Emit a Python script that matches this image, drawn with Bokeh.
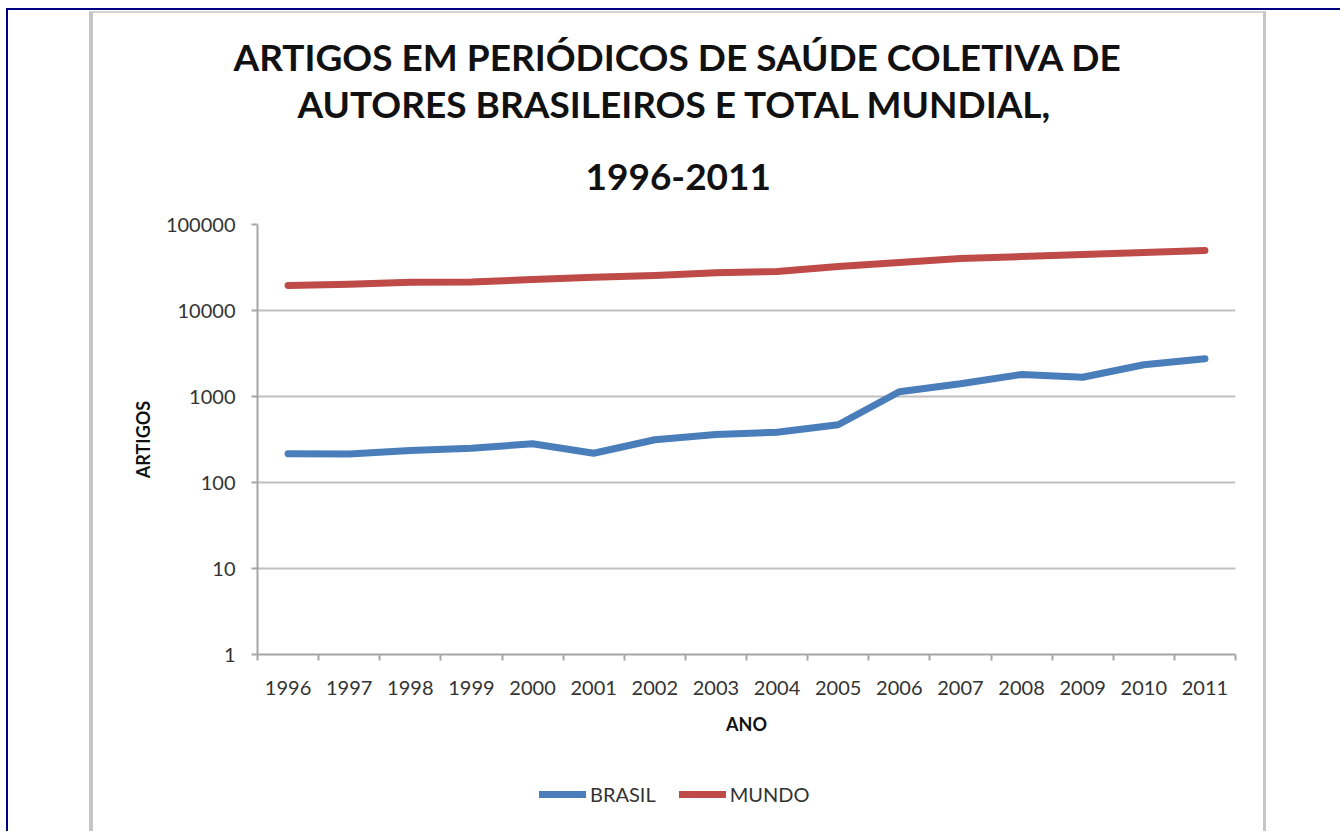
from bokeh.plotting import figure
from bokeh.models import (FixedTicker, PrintfTickFormatter, Legend, LegendItem,
                          Column, Title)
from bokeh.embed import file_html
from bokeh.resources import INLINE

# ---------------- data ----------------
years = [1996, 1997, 1998, 1999, 2000, 2001, 2002, 2003,
         2004, 2005, 2006, 2007, 2008, 2009, 2010, 2011]
brasil = [216, 214, 236, 250, 282, 219, 314, 361,
          384, 469, 1137, 1405, 1803, 1676, 2337, 2743]
mundo = [19540, 20200, 21300, 21500, 22900, 24400, 25500, 27400,
         28400, 32500, 36200, 40200, 42400, 44800, 47200, 49900]
y_ticks = [1, 10, 100, 1000, 10000, 100000]
title_lines = ["ARTIGOS EM PERIÓDICOS DE SAÚDE COLETIVA DE",
               "AUTORES BRASILEIROS E TOTAL  MUNDIAL,",
               "1996-2011"]
y_label = "ARTIGOS"
x_label = "ANO"
series_names = ["BRASIL", "MUNDO"]
colors = ["#4A7EBB", "#BE4B48"]

# ---------------- geometry (page pixels) ----------------
CX, CY = 93, 13            # canvas origin on the page
WC = 1177                  # host width (incl. 4px + 3px borders)
HC1 = 749                  # main figure height
HC2 = 71                   # legend strip height
FX0, FX1, FY0, FY1 = 257, 1235, 224, 654  # frame edges on the page
XMIN, XMAX = years[0] - 0.5, years[-1] + 0.5
FONT = "Lato"
GRAY_BORDER = "4px solid #c6c6c6"

p = figure(width=WC, height=HC1, output_backend="svg", toolbar_location=None,
           title=None,
           y_axis_type="log", x_range=(XMIN, XMAX), y_range=(1, 100000),
           min_border_left=FX0 - CX, min_border_right=CX + WC - FX1,
           min_border_top=FY0 - CY, min_border_bottom=CY + HC1 - FY1,
           background_fill_color="white", border_fill_color="white",
           margin=(1, 74, 0, 81),
           styles={"border-left": GRAY_BORDER,
                   "border-top": "2px solid #d2d2d2",
                   "border-right": "3px solid #c6c6c6"})
p.outline_line_color = None

xa = p.below[0]
ya = p.left[0]

# x axis: labels at year centres, ticks at boundaries (minor ticks)
xa.ticker = FixedTicker(ticks=years,
                        minor_ticks=[y - 0.5 for y in years] + [years[-1] + 0.5])
xa.major_tick_out = 0
xa.major_tick_in = 0
xa.minor_tick_out = 6
xa.minor_tick_in = 0
xa.minor_tick_line_color = "#a6a6a6"
xa.minor_tick_line_width = 2
xa.major_label_standoff = 20
xa.axis_label = x_label
xa.axis_label_standoff = 15

ya.ticker = FixedTicker(ticks=y_ticks)
ya.formatter = PrintfTickFormatter(format="%d")
ya.major_tick_out = 6
ya.major_tick_in = 0
ya.minor_tick_line_color = None
ya.major_tick_line_color = "#a6a6a6"
ya.major_tick_line_width = 2
ya.major_label_standoff = 16
ya.axis_label = y_label
ya.axis_label_standoff = 9

for ax in (xa, ya):
    ax.axis_line_color = "#a6a6a6"
    ax.axis_line_width = 2
    ax.major_label_text_font = FONT
    ax.major_label_text_font_size = "20px"
    ax.major_label_text_color = "#333333"
    ax.axis_label_text_font = FONT
    ax.axis_label_text_font_style = "bold"
    ax.axis_label_text_font_size = "18px"
    ax.axis_label_text_color = "#111111"

p.xgrid.visible = False
p.ygrid.ticker = FixedTicker(ticks=y_ticks)
p.ygrid.grid_line_color = "#c0c0c0"
p.ygrid.grid_line_width = 2

# title lines: added nearest-to-frame first
title_offsets = [-24, 40, 328]
title_standoffs = [0, 1, 70]
for txt, off, so in reversed(list(zip(title_lines, title_offsets, title_standoffs))):
    p.add_layout(Title(text=txt, align="left", offset=off, standoff=so,
                       text_font=FONT, text_font_style="bold",
                       text_font_size="37px", text_color="#111111"), "above")

line_kw = dict(line_width=7, line_cap="round", line_join="round")
p.line(years, brasil, line_color=colors[0], **line_kw)
p.line(years, mundo, line_color=colors[1], **line_kw)

# ---------------- legend strip ----------------
p2 = figure(width=WC, height=HC2, output_backend="svg", toolbar_location=None,
            title=None, x_range=(0, 1), y_range=(0, 1),
            x_axis_location=None, y_axis_location=None,
            min_border=0, min_border_left=0, min_border_right=0,
            min_border_top=0, min_border_bottom=0,
            background_fill_color="white", border_fill_color="white",
            margin=(0, 0, 0, 81),
            styles={"border-left": GRAY_BORDER,
                    "border-right": "3px solid #c6c6c6"})
p2.outline_line_color = None
p2.grid.visible = False
# same series, outside this strip's visible range: only their legend samples show
l_b = p2.line(years, brasil, line_color=colors[0], **line_kw)
l_m = p2.line(years, mundo, line_color=colors[1], **line_kw)

legend = Legend(items=[LegendItem(label=series_names[0], renderers=[l_b]),
                       LegendItem(label=series_names[1], renderers=[l_m])],
                orientation="horizontal", location=(282, 25),
                glyph_width=47, glyph_height=20, label_height=20,
                label_standoff=4, spacing=23, padding=0, margin=0,
                border_line_color=None, background_fill_alpha=0,
                label_text_font=FONT, label_text_font_size="20px",
                label_text_color="#333333")
p2.add_layout(legend, "center")

page = Column(children=[p, p2], margin=(8, 0, 0, 6), spacing=0,
              styles={"border-top": "2px solid #000080",
                      "border-left": "2px solid #000080"})

open("out.html", "w").write(file_html(page, INLINE))
